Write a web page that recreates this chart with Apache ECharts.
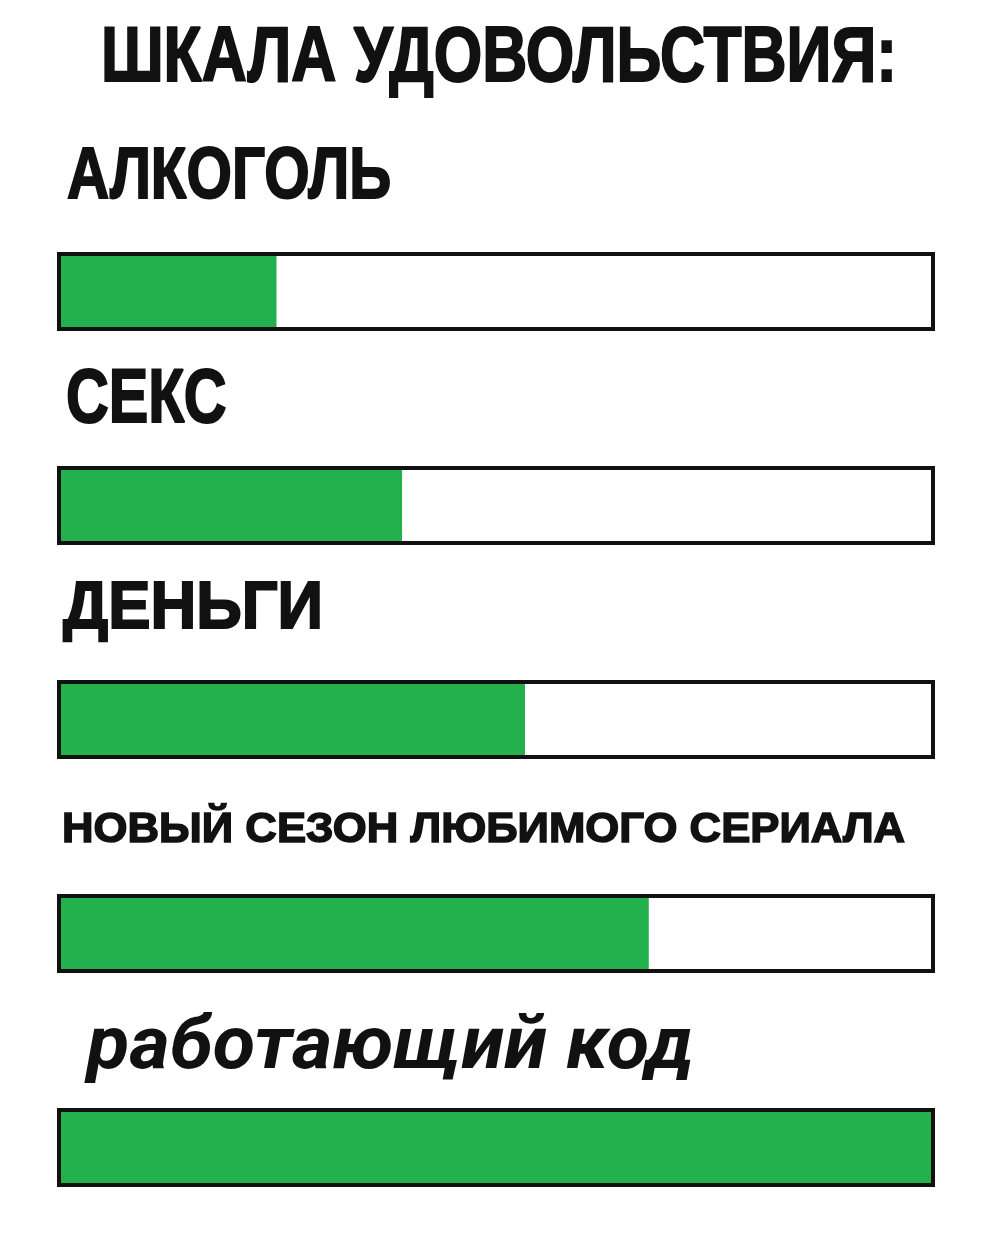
<!DOCTYPE html>
<html>
<head>
<meta charset="utf-8">
<script src="https://cdn.jsdelivr.net/npm/echarts@6/dist/echarts.min.js"></script>
<style>
html,body{margin:0;padding:0;background:#fff;}
#chart{width:992px;height:1233px;}
</style>
</head>
<body>
<div id="chart"></div>
<script>
// ---- data ----
const titleText = 'ШКАЛА УДОВОЛЬСТВИЯ:';
const categories = ['АЛКОГОЛЬ', 'СЕКС', 'ДЕНЬГИ', 'НОВЫЙ СЕЗОН ЛЮБИМОГО СЕРИАЛА', 'работающий код'];
const pleasure = [25, 39.3, 53.3, 67.4, 100];
const scaleMax = 100;

// ---- styles (not data) ----
const GREEN = '#22b14c';
const INK = '#111';
const HEAVY = '"Liberation Sans", Arial, sans-serif';
// gap: distance from baseline to bar rect top; dx: offset from bar left
const labelStyles = [
  { font: 'bold 73px ' + HEAVY, scaleX: 0.80, gap: 49, dx: 10, stroke: 2 },
  { font: 'bold 76px ' + HEAVY, scaleX: 0.78, gap: 39, dx: 9, stroke: 2 },
  { font: 'bold 66px ' + HEAVY, scaleX: 0.96, gap: 47, dx: 6, stroke: 2 },
  { font: 'bold 42px ' + HEAVY, scaleX: 1.04, gap: 49, dx: 5, stroke: 1.5 },
  { font: 'italic bold 74px Roboto, "Noto Sans", sans-serif', scaleX: 1.05, gap: 33, dx: 30, stroke: 0 }
];
const BAR_H = 79;

const chart = echarts.init(document.getElementById('chart'), null, { renderer: 'canvas' });

function renderLabel(params, api) {
  const i = api.value(1);
  const s = labelStyles[i];
  const left = api.coord([0, i]);
  const rectTop = left[1] - BAR_H / 2;
  const fs = parseFloat(s.font.match(/(\d+(\.\d+)?)px/)[1]);
  const baseline = rectTop - s.gap;
  return {
    type: 'text',
    x: left[0] + s.dx,
    y: baseline - 0.345 * fs,
    scaleX: s.scaleX,
    style: {
      text: categories[i],
      font: s.font,
      fill: INK,
      stroke: s.stroke ? INK : null,
      lineWidth: s.stroke,
      align: 'left',
      verticalAlign: 'middle'
    }
  };
}

chart.setOption({
  animation: false,
  backgroundColor: '#fff',
  graphic: [{
    type: 'text',
    x: 499,
    y: 59 - 0.345 * 78 + 27,
    scaleX: 0.80,
    style: {
      text: titleText,
      font: 'bold 78px ' + HEAVY,
      fill: INK,
      stroke: INK,
      lineWidth: 2,
      align: 'center',
      verticalAlign: 'middle'
    }
  }],
  grid: { left: 57, width: 878, top: 184.5, height: 1070, outerBoundsMode: 'none', containLabel: false },
  xAxis: { type: 'value', min: 0, max: scaleMax, show: false },
  yAxis: { type: 'category', data: categories, inverse: true, show: false },
  series: [
    {
      name: 'pleasure',
      type: 'bar',
      data: pleasure,
      barWidth: BAR_H,
      barGap: '-100%',
      itemStyle: { color: GREEN },
      z: 2
    },
    {
      name: 'outline',
      type: 'bar',
      data: categories.map(() => scaleMax),
      barWidth: BAR_H,
      barGap: '-100%',
      itemStyle: { color: 'rgba(0,0,0,0)', borderColor: INK, borderWidth: 4 },
      z: 3
    },
    {
      name: 'labels',
      type: 'custom',
      renderItem: renderLabel,
      data: categories.map((c, i) => [0, i]),
      encode: { x: 0, y: 1 },
      z: 4
    }
  ]
});
</script>
</body>
</html>
